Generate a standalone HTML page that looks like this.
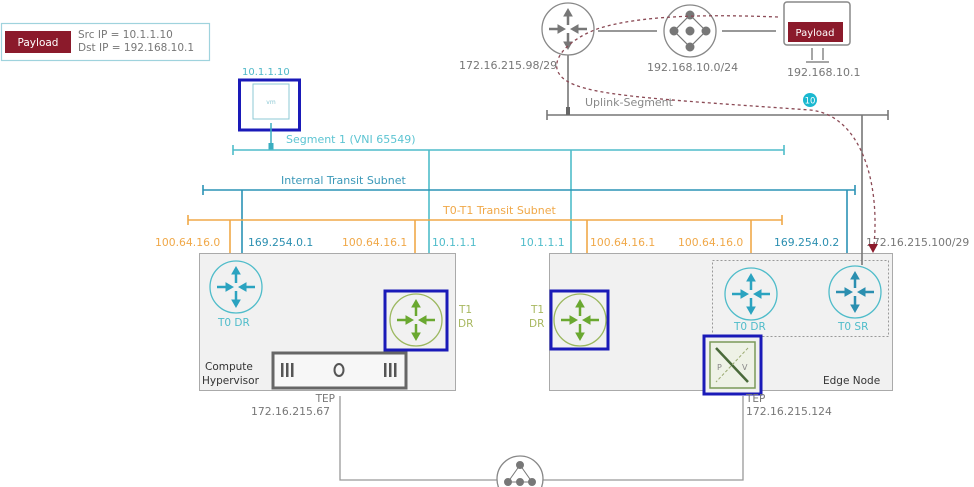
<!DOCTYPE html>
<html><head><meta charset="utf-8"><style>
body{margin:0;background:#fff;}
svg{display:block;font-family:"DejaVu Sans","Liberation Sans",sans-serif;}
</style></head><body>
<svg width="974" height="487" viewBox="0 0 974 487" xmlns="http://www.w3.org/2000/svg">
<defs>
<g id="arr">
<line x1="0" y1="-4" x2="0" y2="-17" stroke-width="2.5"/><polygon points="0,-20 -4,-13 4,-13"/>
<line x1="0" y1="4" x2="0" y2="17" stroke-width="2.5"/><polygon points="0,20 -4,13 4,13"/>
<line x1="-19" y1="0" x2="-7" y2="0" stroke-width="2.5"/><polygon points="-3,0 -10,-4 -10,4"/>
<line x1="19" y1="0" x2="7" y2="0" stroke-width="2.5"/><polygon points="3,0 10,-4 10,4"/>
</g>
</defs>
<!-- payload legend -->
<rect x="1.5" y="23.5" width="208" height="37" fill="#fff" stroke="#9fd3dd" stroke-width="1.2"/>
<rect x="5" y="31" width="66" height="22" fill="#8b1a2b"/>
<text x="38" y="46" font-size="10.5" fill="#fff" text-anchor="middle">Payload</text>
<text x="78" y="38" font-size="10.5" fill="#777">Src IP = 10.1.1.10</text>
<text x="78" y="51" font-size="10.5" fill="#777">Dst IP = 192.168.10.1</text>

<!-- VM -->
<text x="242" y="75" font-size="10" fill="#4fb8c8">10.1.1.10</text>
<rect x="239.5" y="80" width="60" height="50" fill="#fff" stroke="#1a1ab8" stroke-width="3"/>
<rect x="253" y="84" width="36" height="35" fill="#fff" stroke="#8cc8d4"/>
<text x="271" y="104" font-size="6" fill="#8cc8d4" text-anchor="middle">vm</text>
<line x1="271" y1="123" x2="271" y2="150" stroke="#3aaec0" stroke-width="1.5"/>
<rect x="268.5" y="143" width="5" height="7" fill="#3aaec0"/>

<!-- Segment 1 -->
<g stroke="#4fbcca" stroke-width="1.6" fill="none">
<line x1="233" y1="150" x2="784" y2="150"/><line x1="233" y1="145" x2="233" y2="155"/><line x1="784" y1="145" x2="784" y2="155"/>
<line x1="429" y1="150" x2="429" y2="292"/><line x1="571" y1="150" x2="571" y2="292"/>
</g>
<text x="286" y="143" font-size="11" fill="#5cc4d2">Segment 1 (VNI 65549)</text>

<!-- Internal transit -->
<g stroke="#2b93b5" stroke-width="1.6" fill="none">
<line x1="203" y1="190" x2="855" y2="190"/><line x1="203" y1="185" x2="203" y2="195"/><line x1="855" y1="185" x2="855" y2="195"/>
<line x1="242" y1="190" x2="242" y2="260"/><line x1="847" y1="190" x2="847" y2="266"/>
</g>
<text x="281" y="184" font-size="11" fill="#3a98b8">Internal Transit Subnet</text>

<!-- T0-T1 -->
<g stroke="#f0a848" stroke-width="1.6" fill="none">
<line x1="188" y1="220" x2="782" y2="220"/><line x1="188" y1="215" x2="188" y2="225"/><line x1="782" y1="215" x2="782" y2="225"/>
<line x1="230" y1="220" x2="230" y2="254"/><line x1="415" y1="220" x2="415" y2="292"/>
<line x1="587" y1="220" x2="587" y2="292"/><line x1="751" y1="220" x2="751" y2="268"/>
</g>
<text x="443" y="214" font-size="11" fill="#f0a848">T0-T1 Transit Subnet</text>

<!-- IP labels -->
<g font-size="10.8">
<text x="155" y="246" fill="#f0a848">100.64.16.0</text>
<text x="248" y="246" fill="#2b8fb0">169.254.0.1</text>
<text x="342" y="246" fill="#f0a848">100.64.16.1</text>
<text x="432" y="246" fill="#4fbcca">10.1.1.1</text>
<text x="520" y="246" fill="#4fbcca">10.1.1.1</text>
<text x="590" y="246" fill="#f0a848">100.64.16.1</text>
<text x="678" y="246" fill="#f0a848">100.64.16.0</text>
<text x="774" y="246" fill="#2b8fb0">169.254.0.2</text>
<text x="866" y="246" fill="#777">172.16.215.100/29</text>
</g>

<!-- Left box -->
<rect x="199.5" y="253.5" width="256" height="137" fill="#f1f1f1" stroke="#aaa"/>
<circle cx="236" cy="287" r="26" fill="#f1f1f1" stroke="#4fbcca" stroke-width="1.3"/>
<g transform="translate(236,287)" stroke="#2ba3c0" fill="#2ba3c0"><use href="#arr"/></g>
<text x="218" y="326" font-size="10.5" fill="#4fbcca">T0 DR</text>
<rect x="385" y="291" width="62" height="59" fill="#f1f1f1" stroke="#1a1ab8" stroke-width="3"/>
<circle cx="416" cy="320" r="26" fill="#f1f1f1" stroke="#9cb860" stroke-width="1.3"/>
<g transform="translate(416,320)" stroke="#6aa830" fill="#6aa830"><use href="#arr"/></g>
<text x="459" y="313" font-size="10.5" fill="#a8b860">T1</text>
<text x="458" y="327" font-size="10.5" fill="#a8b860">DR</text>
<rect x="273" y="353" width="133" height="35" fill="#f7f7f7" stroke="#666" stroke-width="3"/>
<g fill="#555">
<rect x="281" y="363" width="2.5" height="14"/><rect x="286" y="363" width="2.5" height="14"/><rect x="291" y="363" width="2.5" height="14"/>
<rect x="384" y="363" width="2.5" height="14"/><rect x="389" y="363" width="2.5" height="14"/><rect x="394" y="363" width="2.5" height="14"/>
</g>
<ellipse cx="339" cy="370" rx="4.5" ry="6" fill="none" stroke="#555" stroke-width="2"/>
<text x="205" y="370" font-size="10.5" fill="#333">Compute</text>
<text x="202" y="384" font-size="10.5" fill="#333">Hypervisor</text>

<!-- Right box -->
<rect x="549.5" y="253.5" width="343" height="137" fill="#f1f1f1" stroke="#aaa"/>
<rect x="712.5" y="260.5" width="176" height="76" fill="none" stroke="#999" stroke-dasharray="2,2"/>
<rect x="551" y="291" width="57" height="58" fill="#f1f1f1" stroke="#1a1ab8" stroke-width="3"/>
<circle cx="580" cy="320" r="26" fill="#f1f1f1" stroke="#9cb860" stroke-width="1.3"/>
<g transform="translate(580,320)" stroke="#6aa830" fill="#6aa830"><use href="#arr"/></g>
<text x="531" y="313" font-size="10.5" fill="#a8b860">T1</text>
<text x="529" y="327" font-size="10.5" fill="#a8b860">DR</text>
<circle cx="751" cy="294" r="26" fill="#f1f1f1" stroke="#4fbcca" stroke-width="1.3"/>
<g transform="translate(751,294)" stroke="#2ba3c0" fill="#2ba3c0"><use href="#arr"/></g>
<text x="734" y="330" font-size="10.5" fill="#4fbcca">T0 DR</text>
<circle cx="855" cy="292" r="26" fill="#f1f1f1" stroke="#4fbcca" stroke-width="1.3"/>
<g transform="translate(855,292)" stroke="#2b8fb0" fill="#2b8fb0"><use href="#arr"/></g>
<text x="838" y="330" font-size="10.5" fill="#4fbcca">T0 SR</text>
<rect x="704" y="336" width="57" height="58" fill="#f1f1f1" stroke="#1a1ab8" stroke-width="3"/>
<rect x="710" y="342" width="45" height="46" fill="#eef2e6" stroke="#7a9a58" stroke-width="1.5"/>
<line x1="716" y1="348" x2="748" y2="382" stroke="#4a6a3a" stroke-width="2.5"/>
<line x1="748" y1="348" x2="716" y2="382" stroke="#9aaa70" stroke-width="1" stroke-dasharray="3,2"/>
<text x="717" y="370" font-size="8" fill="#888">P</text>
<text x="742" y="370" font-size="8" fill="#888">V</text>
<text x="823" y="384" font-size="10.5" fill="#333">Edge Node</text>

<!-- uplink -->
<g stroke="#777" stroke-width="1.6" fill="none">
<line x1="547" y1="115" x2="888" y2="115"/><line x1="547" y1="110" x2="547" y2="120"/><line x1="888" y1="110" x2="888" y2="120"/>
<line x1="862" y1="115" x2="862" y2="265"/>
<line x1="568" y1="55" x2="568" y2="115"/>
<line x1="598" y1="31" x2="657" y2="31"/><line x1="722" y1="31" x2="776" y2="31"/>
</g>
<rect x="566" y="107" width="4" height="8" fill="#666"/>
<text x="585" y="106" font-size="11" fill="#888">Uplink-Segment</text>
<circle cx="568" cy="29" r="26" fill="#fff" stroke="#888" stroke-width="1.3"/>
<g transform="translate(568,29)" stroke="#777" fill="#777"><use href="#arr"/></g>
<text x="459" y="69" font-size="11" fill="#777">172.16.215.98/29</text>
<circle cx="690" cy="31" r="26" fill="#fff" stroke="#888" stroke-width="1.3"/>
<g fill="#777" stroke="#777"><polygon points="690,15 706,31 690,47 674,31" fill="none" stroke-width="1.2"/>
<circle cx="690" cy="15" r="4"/><circle cx="690" cy="47" r="4"/><circle cx="674" cy="31" r="4"/><circle cx="706" cy="31" r="4"/><circle cx="690" cy="31" r="4"/></g>
<text x="647" y="71" font-size="11" fill="#777">192.168.10.0/24</text>
<rect x="784" y="2" width="66" height="43" rx="3" fill="#fff" stroke="#888" stroke-width="1.5"/>
<rect x="788" y="22" width="55" height="20" fill="#8b1a2b"/>
<text x="815" y="36" font-size="10" fill="#fff" text-anchor="middle">Payload</text>
<path d="M812 48 V60 M823 48 V60 M806 62 L829 62" stroke="#888" stroke-width="1.5" fill="none"/>
<text x="787" y="76" font-size="11" fill="#777">192.168.10.1</text>
<path d="M778 17 C700 14 640 16 600 28 C570 38 548 60 560 75 C575 95 640 98 810 110 C860 115 880 180 874 245" stroke="#8b4a55" stroke-width="1.3" fill="none" stroke-dasharray="3,3"/>
<polygon points="868,244 878,244 873,253" fill="#8b1a2b"/>
<circle cx="810" cy="100" r="7" fill="#1ab8d0"/>
<text x="810" y="103.5" font-size="8.5" fill="#fff" text-anchor="middle">10</text>

<!-- TEPs -->
<text x="335" y="402" font-size="10.5" fill="#777" text-anchor="end">TEP</text>
<text x="251" y="415" font-size="10.8" fill="#777">172.16.215.67</text>
<text x="746" y="402" font-size="10.5" fill="#777">TEP</text>
<text x="746" y="415" font-size="10.8" fill="#777">172.16.215.124</text>
<path d="M340 396 V480 H497 M543 480 H743 V396" stroke="#999" stroke-width="1.3" fill="none"/>
<circle cx="520" cy="479" r="23" fill="#fff" stroke="#888" stroke-width="1.3"/>
<g fill="#777" stroke="#777"><polygon points="520,465 508,482 532,482" fill="none"/>
<circle cx="520" cy="465" r="3.5"/><circle cx="508" cy="482" r="3.5"/><circle cx="520" cy="482" r="3.5"/><circle cx="532" cy="482" r="3.5"/></g>
</svg>
</body></html>
